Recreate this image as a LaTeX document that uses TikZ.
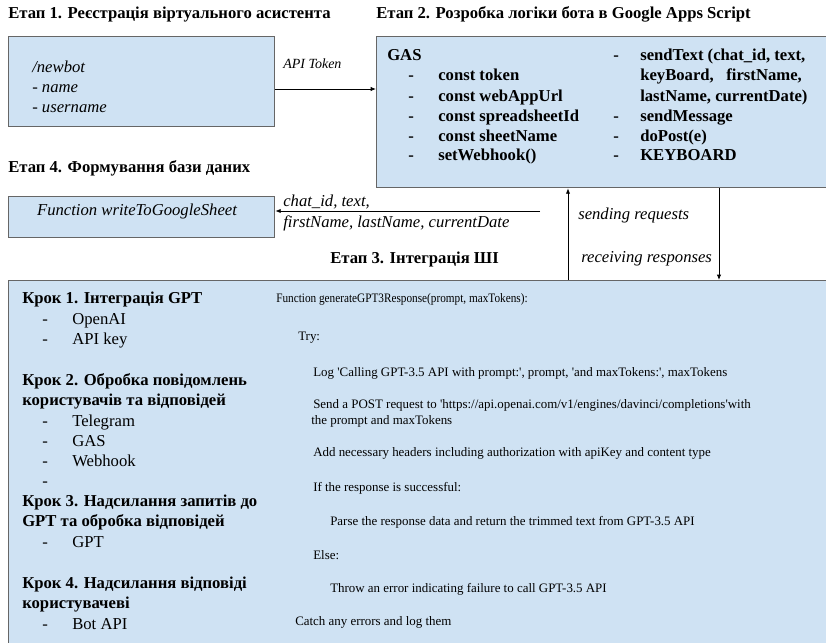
\documentclass[tikz,border=0pt]{standalone}
\usepackage{fontspec}
\setmainfont{Liberation Serif}
\usetikzlibrary{arrows.meta}
\definecolor{boxblue}{HTML}{CFE2F3}
\definecolor{boxline}{HTML}{666666}
\begin{document}
\begin{tikzpicture}[x=0.75pt,y=-0.75pt,
  box/.style={draw=boxline, fill=boxblue, line width=1pt, anchor=north west, inner sep=0pt},
  txt/.style={anchor=base west, inner sep=0pt},
  ttl/.style={txt, font=\bfseries\fontsize{12.5}{15}\selectfont},
  itx/.style={txt, font=\itshape\fontsize{12.5}{15}\selectfont},
  btx/.style={txt, font=\bfseries\fontsize{12.5}{15}\selectfont},
  rtx/.style={txt, font=\fontsize{12.5}{15}\selectfont},
  stx/.style={txt, font=\fontsize{9.7}{11}\selectfont},
  arr/.style={-{Latex[length=4pt,width=3.2pt]}, line width=0.6pt, black}]
\useasboundingbox (0,0) rectangle (826,643);
\fill[white] (0,0) rectangle (826,643);

% titles
\node[ttl] (t1) at (8,18) {Етап 1. Реєстрація віртуального асистента};
\node[ttl] (t2) at (376,18) {Етап 2. Розробка логіки бота в Google Apps Script};
\node[ttl] (t4) at (8,172) {Етап 4. Формування бази даних};
\node[ttl] (t3) at (330,263) {Етап 3. Інтеграція ШІ};

% boxes
\node[box, minimum width=199.5pt, minimum height=67.5pt] (b1) at (8,36) {};
\node[box, minimum width=342pt, minimum height=113.25pt] (b2) at (376,36) {};
\node[box, minimum width=199.5pt, minimum height=30.75pt] (b4) at (8,196) {};
\node[box, minimum width=618pt, minimum height=277.5pt] (b3) at (8,280) {};

% box 1
\node[itx] (n1) at (32,72) {/newbot};
\node[itx] (n2) at (32,92) {- name};
\node[itx] (n3) at (32,112) {- username};
\node[txt, font=\itshape\fontsize{10.5}{12}\selectfont] (lapi) at (283,68) {API Token};

% box 2
\node[btx] (g0) at (387,60) {GAS};
\foreach \y/\t [count=\i] in {80/const token, 101/const webAppUrl, 121/const spreadsheetId, 141/const sheetName, 160/setWebhook()}{
  \node[btx] (gd\i) at (408,\y) {-};
  \node[btx] (gt\i) at (438,\y) {\t};
}
\node[btx] (hd1) at (613,60) {-};
\node[btx] (ht1) at (640,60) {sendText (chat\_id, text,};
\node[btx] (ht2) at (640,80) {keyBoard,\ \ \ firstName,};
\node[btx] (ht3) at (640,101) {lastName, currentDate)};
\node[btx] (hd4) at (613,121) {-};
\node[btx] (ht4) at (640,121) {sendMessage};
\node[btx] (hd5) at (613,141) {-};
\node[btx] (ht5) at (640,141) {doPost(e)};
\node[btx] (hd6) at (613,160) {-};
\node[btx] (ht6) at (640,160) {KEYBOARD};

% box 4
\node[itx, anchor=base] (w1) at (137,215) {Function writeToGoogleSheet};
\node[itx] (lc1) at (283,206) {chat\_id, text,};
\node[itx] (lc2) at (283,227) {firstName, lastName, currentDate};

% arrow labels
\node[itx] (ls) at (578,219) {sending requests};
\node[itx] (lr) at (581,262) {receiving responses};

% box 3 left
\node[btx] (k1) at (22,303) {Крок 1. Інтеграція GPT};
\node[rtx] (k1d1) at (42,324) {-}; \node[rtx] (k1a) at (72,324) {OpenAI};
\node[rtx] (k1d2) at (42,344) {-}; \node[rtx] (k1b) at (72,344) {API key};
\node[btx] (k2) at (22,385) {Крок 2. Обробка повідомлень};
\node[btx] (k2b) at (22,405) {користувачів та відповідей};
\node[rtx] (k2d1) at (42,426) {-}; \node[rtx] (k2x) at (72,426) {Telegram};
\node[rtx] (k2d2) at (42,446) {-}; \node[rtx] (k2y) at (72,446) {GAS};
\node[rtx] (k2d3) at (42,466) {-}; \node[rtx] (k2z) at (72,466) {Webhook};
\node[rtx] (k2d4) at (42,486) {-};
\node[btx] (k3) at (22,506) {Крок 3. Надсилання запитів до};
\node[btx] (k3b) at (22,526) {GPT та обробка відповідей};
\node[rtx] (k3d1) at (42,547) {-}; \node[rtx] (k3x) at (72,547) {GPT};
\node[btx] (k4) at (22,588) {Крок 4. Надсилання відповіді};
\node[btx] (k4b) at (22,608) {користувачеві};
\node[rtx] (k4d1) at (42,629) {-}; \node[rtx] (k4x) at (72,629) {Bot API};

% box 3 right
\node[stx] (f0) at (276,302) {\scalebox{0.87}[1]{Function generateGPT3Response(prompt, maxTokens):}};
\node[stx] (f1) at (298,340) {Try:};
\node[stx] (f2) at (313,376) {Log \textquotesingle Calling GPT-3.5 API with prompt:\textquotesingle, prompt, \textquotesingle and maxTokens:\textquotesingle, maxTokens};
\node[stx] (f3) at (313,408) {Send a POST request to \textquotesingle https://api.openai.com/v1/engines/davinci/completions\textquotesingle with};
\node[stx] (f3b) at (311,424) {the prompt and maxTokens};
\node[stx] (f4) at (313,456) {Add necessary headers including authorization with apiKey and content type};
\node[stx] (f5) at (313,491) {If the response is successful:};
\node[stx] (f6) at (330,525) {Parse the response data and return the trimmed text from GPT-3.5 API};
\node[stx] (f7) at (313,559) {Else:};
\node[stx] (f8) at (330,592) {Throw an error indicating failure to call GPT-3.5 API};
\node[stx] (f9) at (295,625) {Catch any errors and log them};

% connectors
\coordinate (ya) at (300,89);
\draw[arr] (ya -| b1.east) -- (ya -| b2.west);
\coordinate (cs) at (540,211);
\draw[arr] (cs) -- (cs -| b4.east);
\coordinate (up) at (568,0);
\draw[arr] (up |- b3.north) -- (up |- b2.south);
\coordinate (dn) at (719,0);
\draw[arr] (dn |- b2.south) -- (dn |- b3.north);
\end{tikzpicture}
\end{document}
